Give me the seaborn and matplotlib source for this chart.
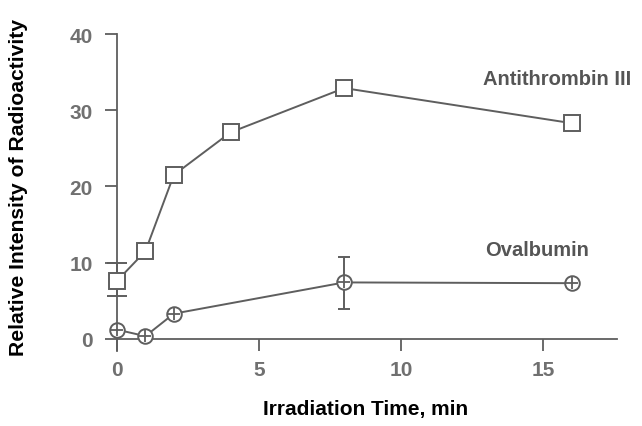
import matplotlib
matplotlib.use("Agg")
import matplotlib.pyplot as plt
import seaborn as sns
import numpy as np
import pandas as pd

# ---- data ----
time_min = [0, 1, 2, 4, 8, 16]
antithrombin = [7.6, 11.5, 21.5, 27.1, 32.9, 28.3]
ov_time = [0, 1, 2, 8, 16]
ov_vals = [1.2, 0.35, 3.3, 7.4, 7.3]

# error bars (x, value, lower, upper)
at_err_x = [0]
at_err_y = [7.6]
at_err_lo = [2.0]
at_err_hi = [2.4]
ov_err_x = [8]
ov_err_y = [7.4]
ov_err_lo = [3.5]
ov_err_hi = [3.3]

x_ticks = [0, 5, 10, 15]
y_ticks = [0, 10, 20, 30, 40]

sns.set_theme(style="white")
plt.rcParams['font.family'] = ['Liberation Sans', 'DejaVu Sans']

gray = '#5e5e5e'
tick_gray = '#707070'

fig = plt.figure(figsize=(6.42, 4.27), dpi=100)
ax = fig.add_axes([117/642, 75/427, 500/642, 317/427])

df_at = pd.DataFrame({'t': time_min, 'v': antithrombin})
df_ov = pd.DataFrame({'t': ov_time, 'v': ov_vals})

# Antithrombin III
eb1 = ax.errorbar(at_err_x, at_err_y, yerr=[at_err_lo, at_err_hi], fmt='none',
                  ecolor=gray, elinewidth=1.4, capsize=7, capthick=1.4, zorder=2)
sns.lineplot(data=df_at, x='t', y='v', ax=ax, color=gray, linewidth=1.4,
             marker='s', markersize=11, markerfacecolor='white',
             markeredgecolor=gray, markeredgewidth=1.4, zorder=3)

# Ovalbumin
eb2 = ax.errorbar(ov_err_x, ov_err_y, yerr=[ov_err_lo, ov_err_hi], fmt='none',
                  ecolor=gray, elinewidth=1.4, capsize=4.5, capthick=1.4, zorder=2)
sns.lineplot(data=df_ov, x='t', y='v', ax=ax, color=gray, linewidth=1.4,
             marker='o', markersize=10.5, markerfacecolor='white',
             markeredgecolor=gray, markeredgewidth=1.4, zorder=3)
sns.scatterplot(data=df_ov, x='t', y='v', ax=ax, marker='+', s=75,
                color=gray, linewidth=1.3, zorder=4)

for artist in ax.get_children():
    try:
        artist.set_clip_on(False)
    except Exception:
        pass
for eb in (eb1, eb2):
    for part in eb.lines:
        if part is None:
            continue
        if isinstance(part, (list, tuple)):
            for p in part:
                p.set_clip_on(False)
        else:
            part.set_clip_on(False)

ax.set_xlim(0, 17.6)
ax.set_ylim(-1.6, 40)
ax.set_xticks(x_ticks)
ax.set_yticks(y_ticks)
ax.set_xticklabels([str(v) for v in x_ticks])
ax.set_yticklabels([str(v) for v in y_ticks])

for s in ['top', 'right']:
    ax.spines[s].set_visible(False)
ax.spines['bottom'].set_position(('data', 0))
for s in ['left', 'bottom']:
    ax.spines[s].set_color(gray)
    ax.spines[s].set_linewidth(1.3)

ax.tick_params(axis='both', which='major', direction='out', length=8.5,
               width=1.3, color=gray, labelcolor=tick_gray, labelsize=15,
               left=True, bottom=True)
ax.tick_params(axis='y', pad=9)
ax.tick_params(axis='x', pad=7)
for lab in ax.get_xticklabels() + ax.get_yticklabels():
    lab.set_fontweight('bold')

ax.set_xlabel('Irradiation Time, min', fontsize=15, fontweight='bold', color='black')
ax.set_ylabel('Relative Intensity of Radioactivity', fontsize=15.2, fontweight='bold', color='black')
ax.xaxis.set_label_coords(0.498, -0.15)
ax.yaxis.set_label_coords(-0.178, 0.52)

ax.text(12.9, 34.1, 'Antithrombin III', fontsize=14.5, fontweight='bold',
        color='#555555', ha='left', va='center', clip_on=False)
ax.text(12.96, 11.7, 'Ovalbumin', fontsize=14.5, fontweight='bold',
        color='#555555', ha='left', va='center', clip_on=False)

fig.savefig('out.png', dpi=100)
